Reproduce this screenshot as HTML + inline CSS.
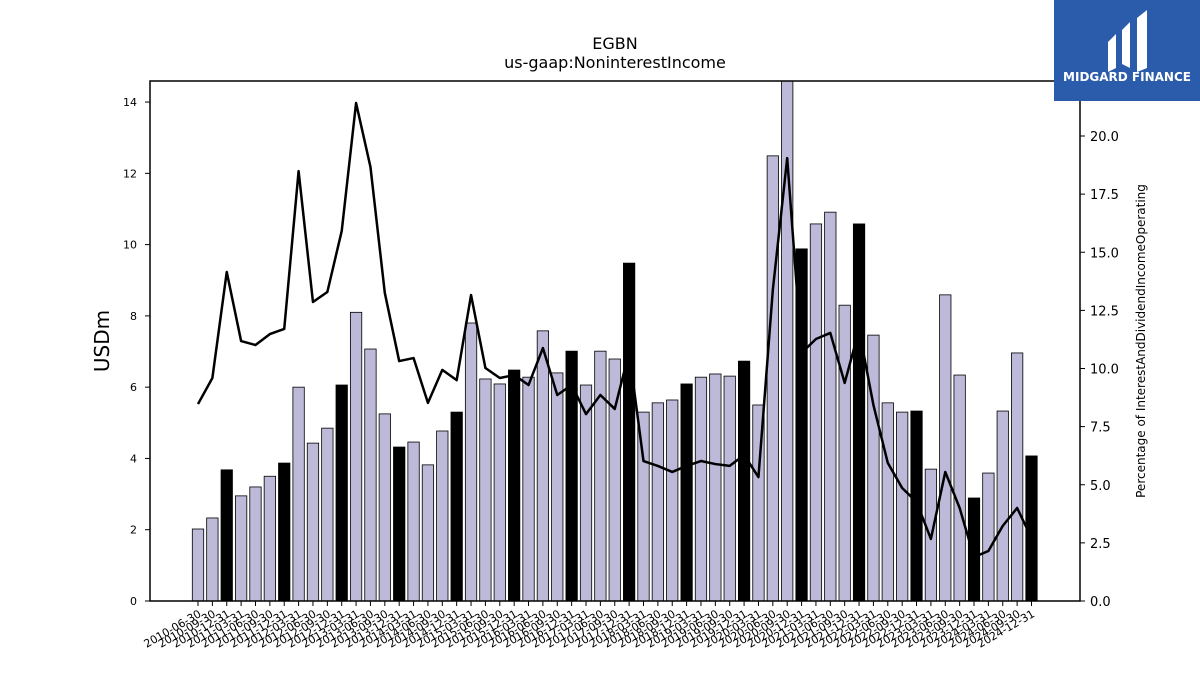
<!DOCTYPE html>
<html><head><meta charset="utf-8"><style>
body{margin:0;background:#fff;font-family:"Liberation Sans","DejaVu Sans",sans-serif}
svg text{font-family:"DejaVu Sans","Liberation Sans",sans-serif}
</style></head><body>
<svg id="c" width="1200" height="675" xmlns="http://www.w3.org/2000/svg">
<text x="615" y="49" font-size="16" text-anchor="middle">EGBN</text>
<text x="615" y="68" font-size="16" text-anchor="middle">us-gaap:NoninterestIncome</text>
<defs><clipPath id="pc"><rect x="150" y="81" width="930" height="520"/></clipPath></defs>
<g id="bars" clip-path="url(#pc)"></g>
<g id="line" clip-path="url(#pc)"></g>
<rect x="150" y="81" width="930" height="520" fill="none" stroke="#000" stroke-width="1.5"/>
<g id="axes"></g>
<text transform="translate(109,341) rotate(-90)" font-size="20" text-anchor="middle">USDm</text>
<text transform="translate(1145,341) rotate(-90)" font-size="12" text-anchor="middle">Percentage of InterestAndDividendIncomeOperating</text>
<g>
<rect x="1054" y="0" width="146" height="101" fill="#2b5cab"/>
<path d="M1108 42 l8 -8 v34 l-8 4z M1122 30 l8 -8 v46 l-8 -4z M1137 18 l10 -8 v58 l-10 4z" fill="#fff"/>
<text x="1127" y="81" font-size="12" font-weight="bold" fill="#fff" text-anchor="middle">MIDGARD FINANCE</text>
</g>
</svg>
<script>
const dates=["2010-06-30","2010-09-30","2010-12-31","2011-03-31","2011-06-30","2011-09-30","2011-12-31","2012-03-31","2012-06-30","2012-09-30","2012-12-31","2013-03-31","2013-06-30","2013-09-30","2013-12-31","2014-03-31","2014-06-30","2014-09-30","2014-12-31","2015-03-31","2015-06-30","2015-09-30","2015-12-31","2016-03-31","2016-06-30","2016-09-30","2016-12-31","2017-03-31","2017-06-30","2017-09-30","2017-12-31","2018-03-31","2018-06-30","2018-09-30","2018-12-31","2019-03-31","2019-06-30","2019-09-30","2019-12-31","2020-03-31","2020-06-30","2020-09-30","2020-12-31","2021-03-31","2021-06-30","2021-09-30","2021-12-31","2022-03-31","2022-06-30","2022-09-30","2022-12-31","2023-03-31","2023-06-30","2023-09-30","2023-12-31","2024-03-31","2024-06-30","2024-09-30","2024-12-31"];
const income=[2.02,2.33,3.68,2.95,3.2,3.5,3.87,6.0,4.43,4.85,6.06,8.1,7.07,5.25,4.32,4.46,3.82,4.77,5.3,7.8,6.23,6.09,6.48,6.28,7.58,6.4,7.01,6.06,7.01,6.79,9.48,5.3,5.56,5.64,6.09,6.28,6.37,6.31,6.73,5.5,12.49,15.0,9.88,10.58,10.91,8.3,10.58,7.46,5.56,5.3,5.33,3.7,8.59,6.34,2.89,3.59,5.33,6.96,4.07];
const pct=[8.47,9.59,14.15,11.18,11.01,11.48,11.7,18.49,12.86,13.29,15.91,21.42,18.67,13.25,10.32,10.45,8.52,9.94,9.5,13.16,10.02,9.59,9.72,9.29,10.88,8.86,9.29,8.04,8.86,8.26,10.71,6.02,5.81,5.55,5.81,6.02,5.89,5.81,6.28,5.33,13.38,19.05,10.67,11.27,11.53,9.38,11.66,8.43,5.94,4.86,4.26,2.67,5.55,4.0,1.89,2.15,3.23,4.0,2.71];
const leftTicks=[0,2,4,6,8,10,12,14];
const rightTicks=[0,2.5,5,7.5,10,12.5,15,17.5,20];
const NS="http://www.w3.org/2000/svg";
const x0=198,dx=(1031.5-198)/58,y0=601;
const xs=i=>x0+i*dx, yl=v=>y0-v*35.64, yr=v=>y0-v*23.25;
function mk(t,a,p){const e=document.createElementNS(NS,t);for(const k in a)e.setAttribute(k,a[k]);p.appendChild(e);return e;}
const bars=document.getElementById('bars'),line=document.getElementById('line'),axes=document.getElementById('axes');
const bw=11.4;
income.forEach((v,i)=>{const q4=dates[i].endsWith('12-31');
const r=mk('rect',{x:xs(i)-bw/2,y:yl(v),width:bw,height:y0-yl(v),fill:q4?'#000':'#bdb9d9',stroke:'#000','stroke-width':0.8},bars);

});
const pl=mk('polyline',{points:pct.map((v,i)=>xs(i)+','+yr(v)).join(' '),fill:'none',stroke:'#000','stroke-width':2.5,'stroke-linejoin':'round'},line);


leftTicks.forEach(t=>{const y=yl(t);mk('line',{x1:145,x2:150,y1:y,y2:y,stroke:'#000'},axes);
const tx=mk('text',{x:137,y:y+4,'font-size':11,'text-anchor':'end'},axes);tx.textContent=t;

});
rightTicks.forEach(t=>{const y=yr(t);mk('line',{x1:1080,x2:1085,y1:y,y2:y,stroke:'#000'},axes);
const tx=mk('text',{x:1090,y:y+5,'font-size':13},axes);tx.textContent=t.toFixed(1);

});
dates.forEach((d,i)=>{const x=xs(i);mk('line',{x1:x,x2:x,y1:601,y2:606,stroke:'#000'},axes);
const tx=mk('text',{transform:`translate(${x+4},${616}) rotate(-30)`,'font-size':11,'text-anchor':'end'},axes);tx.textContent=d;

});
</script>
</body></html>
